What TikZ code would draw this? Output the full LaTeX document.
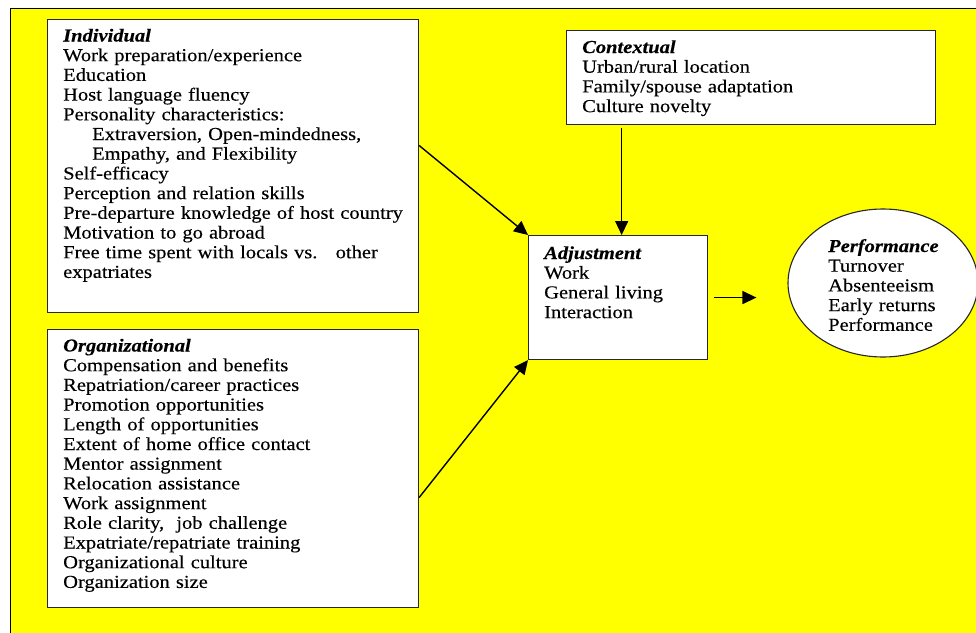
\documentclass[tikz,border=0pt]{standalone}
\usepackage{fontspec}
\setmainfont{Liberation Serif}[FakeStretch=1.12,FakeBold=0.3]
\usetikzlibrary{arrows.meta,calc,shapes.geometric}
\definecolor{bgyellow}{RGB}{255,255,0}
\begin{document}
\begin{tikzpicture}[x=1pt,y=-1pt,
  box/.style={draw=black!85, line width=1.1pt, fill=white, inner sep=0pt, anchor=north west},
  txt/.style={anchor=base west, inner sep=0pt, text width=360pt, align=left, font=\fontsize{18.3}{19.7}\selectfont},
  arr/.style={line width=1.4pt, -{Triangle[length=14pt,width=13pt]}}]
\useasboundingbox (0,0) rectangle (976,632);
\begin{scope}
\clip (0,0) rectangle (976,632);
\draw[fill=bgyellow, line width=1pt] (10,8) rectangle (1000,660);
% boxes
\node[box, minimum width=371pt, minimum height=293pt] (indiv) at (47,19) {};
\node[box, minimum width=371pt, minimum height=278pt] (org) at (47,329) {};
\node[box, minimum width=369pt, minimum height=94pt] (ctx) at (566,30) {};
\node[box, minimum width=179pt, minimum height=124pt] (adj) at (528,235) {};
\node[ellipse, draw=black!85, line width=1.1pt, fill=white, minimum width=190pt, minimum height=148pt, inner sep=0pt] (perf) at (883,283) {};
% texts
\node[txt] (indivtxt) at (63,41.5) {\textbf{\textit{Individual}}\\
Work preparation/experience\\
Education\\
Host language fluency\\
Personality characteristics:\\
\hspace*{29pt}Extraversion, Open-mindedness,\\
\hspace*{29pt}Empathy, and Flexibility\\
Self-efficacy\\
Perception and relation skills\\
Pre-departure knowledge of host country\\
Motivation to go abroad\\
Free time spent with locals vs.\ \ \ other\\
expatriates};
\node[txt] (orgtxt) at (63,351.5) {\textbf{\textit{Organizational}}\\
Compensation and benefits\\
Repatriation/career practices\\
Promotion opportunities\\
Length of opportunities\\
Extent of home office contact\\
Mentor assignment\\
Relocation assistance\\
Work assignment\\
Role clarity,\ \ job challenge\\
Expatriate/repatriate training\\
Organizational culture\\
Organization size};
\node[txt] (ctxtxt) at (582,53) {\textbf{\textit{Contextual}}\\
Urban/rural location\\
Family/spouse adaptation\\
Culture novelty};
\node[txt, text width=160pt] (adjtxt) at (544,259) {\textbf{\textit{Adjustment}}\\
Work\\
General living\\
Interaction};
\node[txt, text width=140pt] (perftxt) at (828,252) {\textbf{\textit{Performance}}\\
Turnover\\
Absenteeism\\
Early returns\\
Performance};
% connectors
\coordinate (adjtop) at ($(adj.north west)!0.52!(adj.north east)$);
\draw[arr] ($(indiv.north east)!0.43!(indiv.south east)$) -- (adj.north west);
\draw[arr] ($(org.north east)!0.604!(org.south east)$) -- (adj.south west);
\draw[arr, shorten <=3pt] (ctx.south -| adjtop) -- (adjtop);
\draw[arr, shorten <=6pt, shorten >=31pt] (adj.east) -- (adj.east -| perf.west);
\end{scope}
\end{tikzpicture}
\end{document}
